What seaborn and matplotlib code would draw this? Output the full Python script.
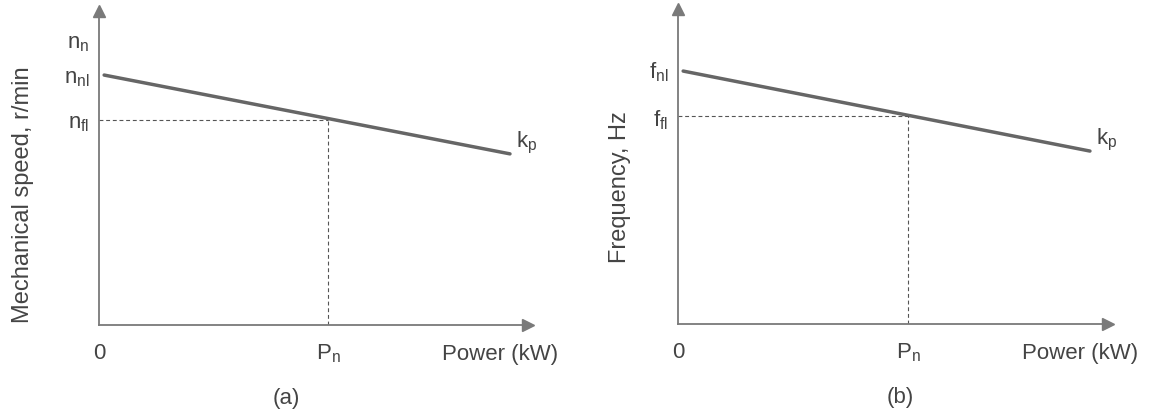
import matplotlib
matplotlib.use("Agg")
import matplotlib.pyplot as plt
import seaborn as sns
import pandas as pd

sns.set_theme(style="white")
plt.rcParams['font.family'] = ['Liberation Sans', 'DejaVu Sans']
plt.rcParams['mathtext.fontset'] = 'custom'
plt.rcParams['mathtext.rm'] = 'Liberation Sans'
plt.rcParams['mathtext.it'] = 'Liberation Sans'

# Data (arbitrary units)
power_a = [1.2, 95.8]
speed_a = [79.6, 54.5]
pn_a = 53.4
nfl_a = 65.3
nnl_a = 79.6
nn_a = 91.0

power_b = [1.2, 95.8]
freq_b = [80.3, 54.9]
pn_b = 53.5
ffl_b = 66.0
fnl_b = 81.0

ylabels = ["Mechanical speed, r/min", "Frequency, Hz"]
panel_tags = ["(a)", "(b)"]

W, H = 1153, 414
fig = plt.figure(figsize=(W / 100, H / 100), dpi=100)

axc = "#7a7a7a"
linec = "#666666"
txtc = "#444444"

def make_ax(x0, y0, x1, ytop):
    return fig.add_axes([x0 / W, (H - y0) / H, (x1 - x0) / W, (y0 - ytop) / H])

ax_a = make_ax(99, 326, 528, 12)
ax_b = make_ax(678, 325, 1108, 10)

panels = [
    (ax_a, power_a, speed_a, pn_a, nfl_a,
     [nn_a, nnl_a, nfl_a], [r"$\mathregular{n_n}$", r"$\mathregular{n_{nl}}$", r"$\mathregular{n_{fl}}$"],
     (23, 195), 0.436),
    (ax_b, power_b, freq_b, pn_b, ffl_b,
     [fnl_b, ffl_b], [r"$\mathregular{f_{nl}}$", r"$\mathregular{f_{fl}}$"],
     (620, 187), 0.516),
]

for i, (ax, px, py, pn, yfl, yt, ytl, ylpos, tagx) in enumerate(panels):
    df = pd.DataFrame({"P": px, "Y": py})
    sns.lineplot(data=df, x="P", y="Y", ax=ax, color=linec, linewidth=2.5)
    ax.plot([0, pn], [yfl, yfl], ls=(0, (3.5, 2.5)), color="#555555", lw=0.8)
    ax.plot([pn, pn], [0, yfl], ls=(0, (3.5, 2.5)), color="#555555", lw=0.8)
    ax.set_xlim(0, 100)
    ax.set_ylim(0, 100)
    for s in ["top", "right"]:
        ax.spines[s].set_visible(False)
    for s in ["left", "bottom"]:
        ax.spines[s].set_color(axc)
        ax.spines[s].set_linewidth(1.3)
    ax.plot(1, 0, marker=">", ms=9, color=axc, transform=ax.transAxes, clip_on=False)
    ax.plot(0, 1, marker="^", ms=9, color=axc, transform=ax.transAxes, clip_on=False)
    ax.set_xticks([0, pn])
    ax.set_xticklabels(["0", r"$\mathregular{P_n}$"])
    ax.set_yticks(yt)
    ax.set_yticklabels(ytl)
    ax.tick_params(axis="y", length=0, labelsize=16, labelcolor=txtc, pad=7)
    ax.tick_params(axis="x", length=0, labelsize=16, labelcolor=txtc, pad=12)
    ax.set_xlabel("")
    ax.set_ylabel("")
    fig.text(ylpos[0] / W, 1 - ylpos[1] / H, ylabels[i], rotation=90, ha="center",
             va="center", fontsize=17, color=txtc)
    ax.text(1.0 + 30 / 429, -0.09, "Power (kW)", transform=ax.transAxes, ha="right",
            va="center", fontsize=16, color=txtc)
    ax.text(px[1] + 1.4, py[1] + 3.8, r"$\mathregular{k_p}$", ha="left",
            va="center", fontsize=16, color=txtc)
    ax.text(tagx, -0.23, panel_tags[i], transform=ax.transAxes, ha="center", va="center",
            fontsize=16, color=txtc)

fig.savefig("out.png", dpi=100)
